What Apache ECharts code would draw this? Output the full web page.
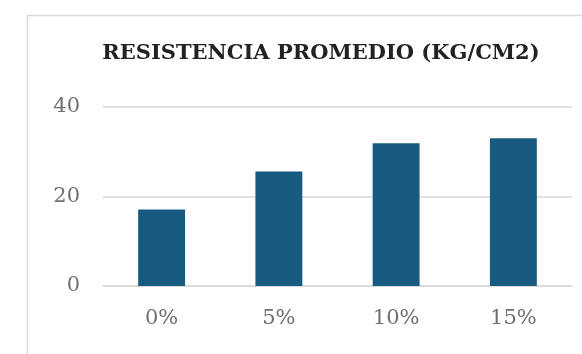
<!DOCTYPE html>
<html>
<head>
<meta charset="utf-8">
<script src="https://cdn.jsdelivr.net/npm/echarts@6/dist/echarts.min.js"></script>
<style>
  html, body { margin: 0; padding: 0; background: #ffffff; }
  #chart { width: 582px; height: 354px; }
</style>
</head>
<body>
<div id="chart"></div>
<script>
// Average strength by additive percentage
const categories = ['0%', '5%', '10%', '15%'];
const resistencia = [17.1, 25.6, 31.9, 33.0];
const yTicks = [0, 20, 40];

const chart = echarts.init(document.getElementById('chart'));
const serif = '"DejaVu Serif", "Liberation Serif", serif';

chart.setOption({
  backgroundColor: '#ffffff',
  animation: false,
  title: {
    text: 'RESISTENCIA PROMEDIO (KG/CM2)',
    left: 316,
    textAlign: 'center',
    top: 38,
    textStyle: { fontFamily: serif, fontWeight: 'bold', fontSize: 21, color: '#222222' }
  },
  graphic: [{
    type: 'rect',
    shape: { x: 27.5, y: 15.5, width: 600, height: 400 },
    style: { fill: 'none', stroke: '#d9d9d9', lineWidth: 1.5 },
    silent: true
  }],
  grid: { left: 103, right: 10, top: 107, bottom: 68, containLabel: false },
  xAxis: {
    type: 'category',
    data: categories,
    axisLine: { show: true, lineStyle: { color: '#d9d9d9', width: 1.5 } },
    axisTick: { show: false },
    axisLabel: { fontFamily: serif, fontSize: 21, color: '#707070', margin: 22 }
  },
  yAxis: {
    type: 'value',
    min: yTicks[0],
    max: yTicks[yTicks.length - 1],
    interval: yTicks[1] - yTicks[0],
    axisLine: { show: false },
    axisTick: { show: false },
    axisLabel: { fontFamily: serif, fontSize: 21, color: '#707070', margin: 23 },
    splitLine: { lineStyle: { color: '#d9d9d9', width: 1.5 } }
  },
  series: [{
    type: 'bar',
    data: resistencia,
    barWidth: '40%',
    itemStyle: { color: '#175b80' }
  }]
});
</script>
</body>
</html>
